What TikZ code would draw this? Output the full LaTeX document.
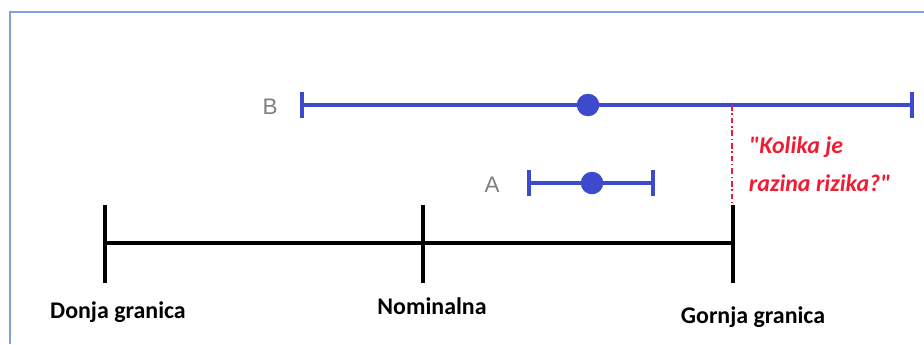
\documentclass[tikz,border=0pt]{standalone}
\usepackage{fontspec}
\setmainfont{Carlito}
\newfontfamily\lblfont{Liberation Sans}
\newfontfamily\riskfont{Carlito}
\usetikzlibrary{arrows.meta,positioning}
\definecolor{barblue}{RGB}{62,74,206}
\definecolor{riskred}{RGB}{240,28,52}
\definecolor{framebl}{RGB}{128,160,222}
\definecolor{lblgray}{RGB}{128,128,128}

\begin{document}
\begin{tikzpicture}[x=0.025cm,y=-0.025cm,
  bar/.style={draw=barblue,line width=2.8pt,{Bar[width=19pt]}-{Bar[width=19pt]}},
  dot/.style={circle,fill=barblue,inner sep=0pt,minimum size=16pt},
  axis/.style={draw=black,line width=2.3pt},
  lbl/.style={font=\lblfont\fontsize{16}{16}\selectfont,text=lblgray},
  lim/.style={font=\bfseries\fontsize{17}{17}\selectfont},
  risk/.style={font=\riskfont\bfseries\itshape\fontsize{17}{27}\selectfont,text=riskred,align=left}]
\useasboundingbox (0,0) rectangle (924,344);
\draw[framebl,line width=1.6pt] (10,344)--(10,12)--(924,12);
% intervals
\coordinate (bL) at (300,105);\coordinate (bR) at (914,105);
\draw[bar] (bL)--(bR);\node[dot] (bM) at (588,105) {};
\node[lbl] (bLab) at (270,107) {B};
\coordinate (aL) at (527,183);\coordinate (aR) at (655,183);
\draw[bar] (aL)--(aR);\node[dot] (aM) at (592,183) {};
\node[lbl] (aLab) at (492,185) {A};
% axis
\foreach \n/\x in {lo/105,nom/423,hi/733}{\coordinate (\n) at (\x,243);\draw[axis] (\x,205)--(\x,283);}
\draw[axis] (lo)--(hi);
\node[lim] (loLab) at (118,312) {Donja granica};
\node[lim] (nomLab) at (432,306) {Nominalna};
\node[lim] (hiLab) at (753,317) {Gornja granica};
% risk
\coordinate (rTop) at (732,105);\coordinate (rBot) at (732,205);
\draw[riskred,line width=1.3pt,dash pattern=on 4pt off 2pt on 1pt off 2pt] (rTop)--(rBot);
\node[risk,anchor=west] (rText) at (744,164) {"Kolika je\\razina rizika?"};
\end{tikzpicture}
\end{document}
